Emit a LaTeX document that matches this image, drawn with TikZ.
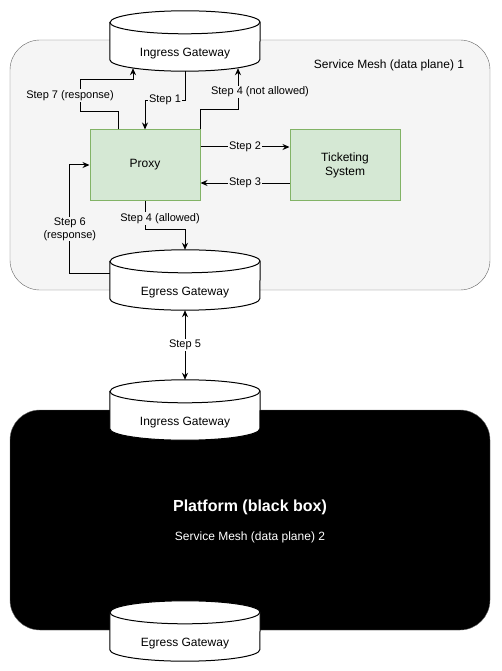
\documentclass[tikz,border=0pt]{standalone}
\usepackage{fontspec}
\setmainfont{Liberation Sans}
\usetikzlibrary{arrows.meta,calc}

\definecolor{meshfill}{HTML}{F5F5F5}
\definecolor{meshline}{HTML}{666666}
\definecolor{proxyfill}{HTML}{D5E8D4}
\definecolor{proxyline}{HTML}{82B366}

\newcommand{\gateway}[3]{%
	\node[gatebox] (#1) at (#2) {};
	\draw[gateline] ($(#1.north west)+(0,11.5)$) -- ($(#1.south west)+(0,-11.5)$)
		arc[start angle=180, end angle=0, x radius=75, y radius=11.5]
		-- ($(#1.north east)+(0,11.5)$)
		arc[start angle=0, end angle=-180, x radius=75, y radius=11.5] -- cycle;
	\draw[gateline, fill=none] ($(#1.north west)+(0,11.5)$)
		arc[start angle=180, end angle=0, x radius=75, y radius=11.5];
	\node[gatetext] (#1-text) at ($(#1.center)+(0,12.5)$) {#3};
}

\begin{document}
\begin{tikzpicture}[
		x=1pt, y=-1pt,
		mesh/.style={draw=meshline, fill=meshfill, rounded corners=30pt, minimum width=480pt, minimum height=250pt},
		blackbox/.style={draw=meshline, fill=black, rounded corners=30pt, minimum width=480pt, minimum height=220pt},
		proxybox/.style={draw=proxyline, fill=proxyfill, line width=1pt, minimum width=110pt, minimum height=70pt, inner sep=0pt, align=center, font=\fontsize{12}{14}\selectfont},
		gatebox/.style={minimum width=150pt, minimum height=60pt, inner sep=0pt},
		gateline/.style={draw=black, fill=white, line width=1pt},
		gatetext/.style={font=\fontsize{12}{14}\selectfont},
		flow/.style={-{Stealth[length=7pt, width=6pt]}, line width=1pt},
		steplabel/.style={fill=meshfill, inner sep=1pt, font=\fontsize{11}{13}\selectfont, align=center}
	]
	\useasboundingbox (0,0) rectangle (501,671);

	\node[mesh] (mesh1) at (250,165) {};
	\node[font=\fontsize{12}{14}\selectfont] (mesh1-label) at (389,65) {Service Mesh (data plane) 1};

	\node[blackbox] (platform) at (250,520) {};
	\node[font=\bfseries\fontsize{16}{19}\selectfont, text=white] (platform-title) at (250,507) {Platform (black box)};
	\node[font=\fontsize{12}{14}\selectfont, text=white] (platform-label) at (250,537) {Service Mesh (data plane) 2};

	\gateway{ig1}{185,41}{Ingress Gateway}
	\gateway{eg1}{185,280}{Egress Gateway}
	\gateway{ig2}{185,410}{Ingress Gateway}
	\gateway{eg2}{185,631}{Egress Gateway}

	\node[proxybox] (prx) at (145,165) {Proxy};
	\node[proxybox] (tks) at (345,165) {Ticketing\\System};

	\draw[flow] (ig1.south) -- ++(0,29) -| node[steplabel, pos=0.25] {Step 1} (prx.north);
	\draw[flow] ($(prx.north)+(-27,0)$) -- ++(0,-18) -- ++(-38,0) -- node[steplabel, xshift=-10pt] {Step 7 (response)} ++(0,-32) -| ($(ig1.south)+(-52,-3)$);
	\draw[flow] (prx.north east) -- ++(0,-20) -| node[steplabel, pos=0.75, xshift=22pt, yshift=-3pt] {Step 4 (not allowed)} ($(ig1.south)+(53,-3)$);
	\draw[flow] ($(prx.east)+(0,-18)$) -- node[steplabel] {Step 2} ($(tks.west)+(0,-18)$);
	\draw[flow] ($(tks.west)+(0,18)$) -- node[steplabel] {Step 3} ($(prx.east)+(0,18)$);
	\draw[flow] ($(eg1.west)+(0,-7)$) -- ++(-40,0) |- node[steplabel, pos=0.25, yshift=-10pt] {Step 6\\(response)} (prx.west);
	\draw[flow] (prx.south) -- node[steplabel, pos=0.62, xshift=15pt] {Step 4 (allowed)} ++(0,29) -| (eg1.north);
	\draw[flow, {Stealth[length=7pt, width=6pt]}-{Stealth[length=7pt, width=6pt]}] (eg1.south) -- node[steplabel, fill=white] {Step 5} (ig2.north);
\end{tikzpicture}
\end{document}
